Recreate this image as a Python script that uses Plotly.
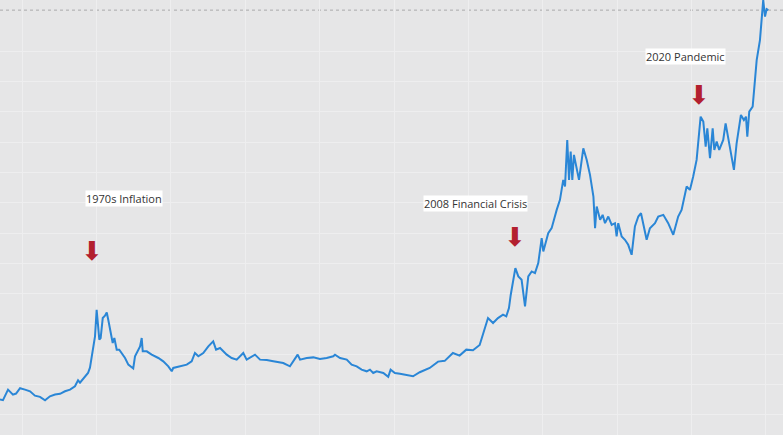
import plotly.graph_objects as go

years = [1973.50, 1973.70, 1974.04, 1974.17, 1974.37, 1974.58, 1974.85, 1975.18, 1975.52, 1975.85,
         1976.19, 1976.53, 1976.86, 1977.20, 1977.54, 1977.87, 1978.21, 1978.54, 1978.75, 1978.88,
         1979.22, 1979.42, 1979.55, 1979.67, 1979.77, 1979.89, 1980.00, 1980.18, 1980.27, 1980.41,
         1980.56, 1980.68, 1980.78, 1980.97, 1981.08, 1981.19, 1981.35, 1981.52, 1981.68, 1981.91,
         1982.13, 1982.36, 1982.46, 1982.58, 1982.73, 1982.92, 1983.03, 1983.10, 1983.37, 1983.70,
         1984.15, 1984.48, 1984.82, 1985.05, 1985.15, 1985.61, 1986.06, 1986.39, 1986.61, 1986.84,
         1987.17, 1987.51, 1987.84, 1988.03, 1988.30, 1988.75, 1989.08, 1989.42, 1989.86, 1990.09,
         1990.65, 1990.99, 1991.44, 1991.88, 1992.55, 1993.00, 1993.22, 1993.52, 1993.68, 1994.13,
         1994.57, 1995.02, 1995.47, 1995.91, 1996.03, 1996.37, 1996.82, 1997.15, 1997.49, 1997.82,
         1998.16, 1998.38, 1998.60, 1998.83, 1999.28, 1999.61, 1999.77, 2000.06, 2000.40, 2000.72,
         2001.28, 2001.73, 2002.40, 2002.96, 2003.41, 2003.96, 2004.41, 2004.86, 2005.31, 2005.76,
         2006.10, 2006.32, 2006.66, 2006.99, 2007.33, 2007.55, 2007.73, 2007.85, 2008.16, 2008.36,
         2008.58, 2008.81, 2009.03, 2009.26, 2009.48, 2009.70, 2009.93, 2010.04, 2010.37, 2010.60,
         2010.94, 2011.16, 2011.38, 2011.50, 2011.65, 2011.77, 2011.88, 2011.99, 2012.10, 2012.28,
         2012.44, 2012.73, 2012.96, 2013.18, 2013.41, 2013.52, 2013.63, 2013.86, 2014.03, 2014.19,
         2014.41, 2014.64, 2014.86, 2014.97, 2015.08, 2015.31, 2015.53, 2015.75, 2015.98, 2016.20,
         2016.43, 2016.61, 2016.76, 2016.99, 2017.21, 2017.55, 2017.77, 2018.11, 2018.44, 2018.78,
         2019.11, 2019.34, 2019.68, 2019.90, 2020.12, 2020.35, 2020.62, 2020.80, 2020.96, 2021.07,
         2021.25, 2021.43, 2021.54, 2021.70, 2021.87, 2022.14, 2022.30, 2022.48, 2022.71, 2022.86,
         2023.04, 2023.33, 2023.53, 2023.67, 2023.76, 2023.89, 2024.12, 2024.27, 2024.39, 2024.61,
         2024.72, 2024.83, 2024.95, 2025.06, 2025.17]

prices = [100, 95, 165, 152, 132, 139, 174, 165, 154, 125,
          117, 94, 121, 132, 137, 154, 165, 187, 226, 211,
          249, 275, 310, 385, 418, 517, 693, 495, 505, 638,
          653, 675, 627, 517, 473, 506, 429, 429, 407, 374,
          330, 308, 305, 385, 418, 451, 506, 418, 418, 396,
          374, 352, 319, 286, 308, 319, 330, 352, 407, 385,
          407, 451, 484, 429, 440, 396, 374, 363, 407, 363,
          396, 363, 360, 352, 341, 319, 352, 396, 363, 374,
          378, 367, 374, 385, 396, 374, 363, 330, 319, 297,
          286, 297, 275, 286, 275, 250, 297, 275, 270, 262,
          253, 280, 308, 350, 355, 407, 390, 429, 425, 460,
          572, 638, 605, 638, 660, 649, 704, 792, 968, 913,
          891, 715, 913, 946, 935, 1001, 1166, 1078, 1199, 1232,
          1353, 1419, 1551, 1507, 1815, 1551, 1738, 1551, 1716, 1639,
          1551, 1760, 1683, 1584, 1441, 1232, 1375, 1287, 1320, 1265,
          1309, 1254, 1265, 1177, 1265, 1177, 1155, 1122, 1056, 1243,
          1309, 1331, 1254, 1155, 1232, 1265, 1309, 1320, 1265, 1188,
          1309, 1353, 1507, 1485, 1573, 1683, 1969, 1936, 1771, 1892,
          1694, 1892, 1749, 1804, 1749, 1815, 1925, 1826, 1694, 1617,
          1793, 1980, 1947, 1969, 1837, 2002, 2035, 2233, 2343, 2475,
          2585, 2739, 2630, 2680, 2673]

event_labels = ["1970s Inflation", "2008 Financial Crisis", "2020 Pandemic"]
label_x = [1981.81, 2005.51, 2019.63]
label_y = [1429, 1393, 2369]
arrow_x = [1979.72, 2008.13, 2020.50]
arrow_y = [1082, 1175, 2112]

x_ticks = list(range(1975, 2030, 5))
y_ticks = list(range(0, 2600, 200))

BG = "#e6e6e7"
GRID = "#eeeeef"

fig = go.Figure()
fig.add_trace(go.Scatter(x=years, y=prices, mode="lines",
                         line=dict(color="#2a86d6", width=2), showlegend=False,
                         hoverinfo="skip"))

fig.add_shape(type="line", xref="paper", x0=0, x1=1, yref="y",
              y0=prices[-1], y1=prices[-1],
              line=dict(color="#a9a9ab", width=1, dash="dot"), layer="below")

for t, lx, ly in zip(event_labels, label_x, label_y):
    fig.add_annotation(x=lx, y=ly, xref="x", yref="y", text=t, showarrow=False,
                       font=dict(family="Open Sans, Arial", size=11, color="#333333"),
                       bgcolor="#ffffff", borderpad=0, xanchor="center", yanchor="middle")

for ax_, ay_ in zip(arrow_x, arrow_y):
    fig.add_annotation(x=ax_, y=ay_, xref="x", yref="y", text="⬇", showarrow=False,
                       font=dict(family="DejaVu Sans", size=26, color="#b3202f"),
                       xanchor="center", yanchor="middle")

fig.update_layout(
    width=783, height=435,
    margin=dict(l=0, r=0, t=0, b=0),
    plot_bgcolor=BG, paper_bgcolor=BG,
    xaxis=dict(range=[1973.50, 2026.16], tickvals=x_ticks, showticklabels=False,
               showgrid=True, gridcolor=GRID, gridwidth=1, zeroline=False, showline=False),
    yaxis=dict(range=[-135, 2740], tickvals=y_ticks, showticklabels=False,
               showgrid=True, gridcolor=GRID, gridwidth=1, zeroline=False, showline=False),
)

fig.write_html("out.html", config={"displayModeBar": False},
               post_script="document.body.style.margin='0';document.body.style.background='%s';" % BG)
